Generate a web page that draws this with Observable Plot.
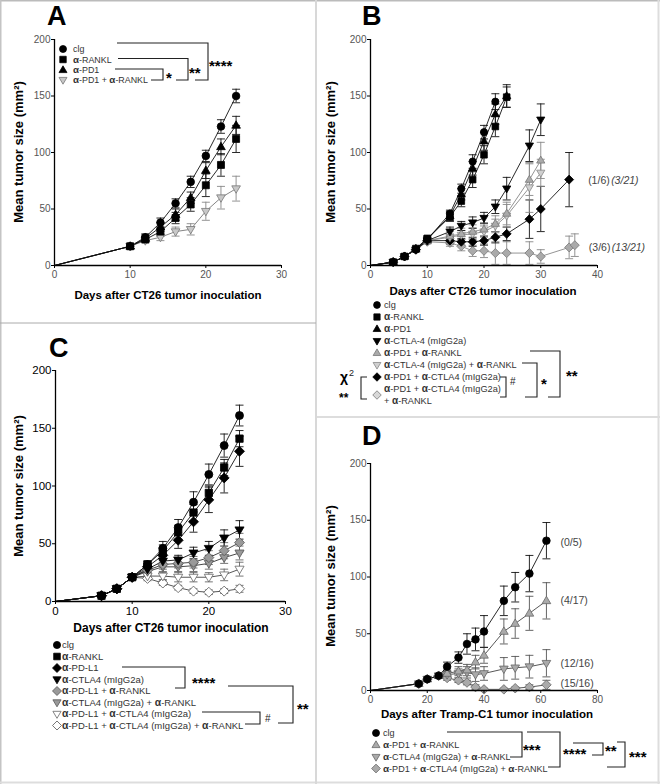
<!DOCTYPE html>
<html><head><meta charset="utf-8">
<script src="https://cdn.jsdelivr.net/npm/d3@7"></script>
<script src="https://cdn.jsdelivr.net/npm/@observablehq/plot@0.6"></script>
<style>
body{margin:0;background:#fff;}
#fig{position:relative;width:660px;height:784px;overflow:hidden;background:#fff;font-family:"Liberation Sans",Arial,sans-serif;}
#fig svg{position:absolute;left:0;top:0;background:transparent;}
</style></head><body><div id="fig"></div>
<script>
// ---------------- DATA ----------------
// Panel A (days after CT26 inoculation)
const A_days = [0,10,12,14,16,18,20,22,24];
const A_clg      = [0,17,25,38,55,74,97,123,150];
const A_clg_sem  = [0,2,3,4,4,5,5,6,6];
const A_rankl    = [0,17,23,30,42,54,71,89,112];
const A_rankl_sem= [0,2,2,4,5,6,10,10,12];
const A_pd1      = [0,17,24,34,45,60,84,105,124];
const A_pd1_sem  = [0,2,3,4,5,5,7,7,8];
const A_pd1r     = [0,17,22,25,30,32,48,60,68];
const A_pd1r_sem = [0,2,2,3,4,5,8,10,11];
const A_labels = ["clg","α-RANKL","α-PD1","α-PD1 + α-RANKL"];

// Panel B
const B_clg_days = [0,4,6,8,10,14,16,18,20,22];
const B_clg      = [0,3,8,14,23,46,68,92,118,145];
const B_clg_sem  = [0,1,1,1,2,3,4,6,6,7];
const B_rankl_days = [0,4,6,8,10,14,16,18,20,22,24];
const B_rankl      = [0,3,8,15,24,43,57,76,98,123,149];
const B_rankl_sem  = [0,1,1,1,2,4,5,7,8,9,9];
const B_pd1_days = [0,4,6,8,10,14,16,18,20,22,24];
const B_pd1      = [0,3,8,15,23,44,63,86,110,134,150];
const B_pd1_sem  = [0,1,1,1,2,4,5,6,8,9,10];
const B_ctla_days = [0,4,6,8,10,14,16,18,20,22,24,28,30];
const B_ctla      = [0,3,8,14,22,30,35,38,42,52,68,106,129];
const B_ctla_sem  = [0,1,1,1,2,4,4,5,5,6,10,14,14];
const B_pd1r_days = [0,4,6,8,10,14,16,18,20,22,24,28,30];
const B_pd1r      = [0,3,8,14,22,26,28,30,32,37,46,76,93];
const B_pd1r_sem  = [0,1,1,1,2,4,5,6,6,7,10,14,16];
const B_ctlar_days = [0,4,6,8,10,14,16,18,20,22,24,28,30];
const B_ctlar      = [0,3,8,14,22,25,27,28,30,35,44,69,82];
const B_ctlar_sem  = [0,1,1,1,2,3,4,5,5,6,10,22,12];
const B_pdctla_days = [0,4,6,8,10,14,16,18,20,22,24,28,30,35];
const B_pdctla      = [0,3,8,14,22,22,21,21,22,25,28,41,50,76];
const B_pdctla_sem  = [0,1,1,1,2,3,3,4,4,5,6,17,20,24];
const B_all_days = [0,4,6,8,10,14,16,18,20,22,24,28,30,35,36];
const B_all      = [0,3,8,14,21,20,17,13,13,11,11,11,8,16,18];
const B_all_sem  = [0,1,1,1,2,3,4,5,6,10,10,10,6,10,10];
const B_labels = ["clg","α-RANKL","α-PD1","α-CTLA-4 (mIgG2a)","α-PD1 + α-RANKL","α-CTLA-4 (mIgG2a) + α-RANKL","α-PD1 + α-CTLA4 (mIgG2a)","α-PD1 + α-CTLA4 (mIgG2a)","+ α-RANKL"];
const B_notes = [["(1/6)","(3/21)"],["(3/6)","(13/21)"]];

// Panel C
const C_days = [0,6,8,10,12,14,16,18,20,22,24];
const C_clg       = [0,5,11,21,32,46,64,86,110,135,161];
const C_clg_sem   = [0,1,1,2,3,6,7,9,9,10,9];
const C_rankl     = [0,5,11,21,32,44,60,77,94,116,141];
const C_rankl_sem = [0,1,1,2,3,5,6,7,6,7,7];
const C_pdl1      = [0,5,11,21,30,40,53,69,88,107,130];
const C_pdl1_sem  = [0,1,1,2,3,4,7,9,11,13,13];
const C_ctla      = [0,5,11,21,28,35,36,42,46,55,62];
const C_ctla_sem  = [0,1,1,2,3,4,4,5,6,7,8];
const C_pdl1r     = [0,5,11,21,27,32,33,34,38,44,51];
const C_pdl1r_sem = [0,1,1,2,3,4,4,5,6,7,8];
const C_ctlar     = [0,5,11,21,26,30,30,31,33,38,42];
const C_ctlar_sem = [0,1,1,2,3,4,4,5,5,5,6];
const C_pdctla    = [0,5,11,21,22,22,21,21,21,23,28];
const C_pdctla_sem= [0,1,1,2,2,3,4,4,4,5,6];
const C_all       = [0,5,11,21,20,16,12,9,8,9,11];
const C_all_sem   = [0,1,1,2,2,2,2,2,2,2,3];
const C_labels = ["clg","α-RANKL","α-PD-L1","α-CTLA4 (mIgG2a)","α-PD-L1 + α-RANKL","α-CTLA4 (mIgG2a) + α-RANKL","α-PD-L1 + α-CTLA4 (mIgG2a)","α-PD-L1 + α-CTLA4 (mIgG2a) + α-RANKL"];

// Panel D (days after Tramp-C1 inoculation)
const D_days = [0,17,20,24,27,31,34,37,40,47,51,56,62];
const D_clg       = [0,6,10,13,21,29,41,45,52,79,91,103,132];
const D_clg_sem   = [0,1,2,2,4,5,9,10,14,13,13,16,16];
const D_pd1r      = [0,6,10,13,15,17,18,25,31,52,59,68,79];
const D_pd1r_sem  = [0,1,2,2,3,4,5,6,7,11,13,15,16];
const D_ctlar     = [0,6,10,13,14,15,16,14,15,19,20,21,24];
const D_ctlar_sem = [0,1,2,2,3,4,5,6,6,10,10,10,12];
const D_all       = [0,6,10,13,11,9,7,3,1,1,2,3,5];
const D_all_sem   = [0,1,2,2,2,2,2,2,1,1,1,2,4];
const D_labels = ["clg","α-PD1 + α-RANKL","α-CTLA4 (mIgG2a) + α-RANKL","α-PD1 + α-CTLA4 (mIgG2a) + α-RANKL"];
const D_notes = ["(0/5)","(4/17)","(12/16)","(15/16)"];

// ---------------- SYMBOLS ----------------
const R = s => Math.sqrt(s / Math.PI);
const circ = {draw(c,s){const r=R(s); c.moveTo(r,0); c.arc(0,0,r,0,2*Math.PI);}};
const sq = {draw(c,s){const r=R(s)*0.92; c.moveTo(-r,-r); c.lineTo(r,-r); c.lineTo(r,r); c.lineTo(-r,r); c.closePath();}};
const triU = {draw(c,s){const r=R(s)*1.2; c.moveTo(0,-r); c.lineTo(r*0.95,r*0.62); c.lineTo(-r*0.95,r*0.62); c.closePath();}};
const triD = {draw(c,s){const r=R(s)*1.2; c.moveTo(0,r); c.lineTo(r*0.95,-r*0.62); c.lineTo(-r*0.95,-r*0.62); c.closePath();}};
const dia = {draw(c,s){const r=R(s)*1.25; c.moveTo(0,-r); c.lineTo(r,0); c.lineTo(0,r); c.lineTo(-r,0); c.closePath();}};
const cap = {draw(c,s){const r=R(s); c.moveTo(-r,0); c.lineTo(r,0);}};

const BLK = {fill:"#000", stroke:"#000", line:"#111", bar:"#111"};
const st = (fill, stroke, line, bar) => ({fill, stroke, line, bar});

const rows = (days, mean, sem) => days.map((x,i) => ({x, y: mean[i], e: sem[i]}));

const fig = document.getElementById("fig");
const FONT = '"Liberation Sans", Arial, sans-serif';

function panel(cfg) {
  const marks = [];
  const S = cfg.series.map(s => ({...s, d: rows(s.days, s.mean, s.sem)}));
  for (const s of S) {
    const eb = s.d.filter(p => p.e > 0 && p.x > 0);
    marks.push(Plot.ruleX(eb, {x:"x", y1:p=>p.y-p.e, y2:p=>p.y+p.e, stroke:s.st.bar, strokeWidth:0.9}));
    marks.push(Plot.dot(eb, {x:"x", y:p=>p.y+p.e, symbol:cap, r:cfg.cap, stroke:s.st.bar, strokeWidth:0.9}));
    marks.push(Plot.dot(eb, {x:"x", y:p=>p.y-p.e, symbol:cap, r:cfg.cap, stroke:s.st.bar, strokeWidth:0.9}));
  }
  for (const s of S) marks.push(Plot.line(s.d, {x:"x", y:"y", stroke:s.st.line, strokeWidth:0.9}));
  for (const s of S) marks.push(Plot.dot(s.d.filter(p => p.x > 0), {x:"x", y:"y", symbol:s.sym, r:cfg.dr, fill:s.st.fill, stroke:s.st.stroke, strokeWidth:0.8}));
  marks.push(Plot.ruleY([0], {stroke:"#000", strokeWidth:1.3}));
  marks.push(Plot.ruleX([0], {stroke:"#000", strokeWidth:1.3}));
  marks.push(Plot.axisX({ticks:cfg.xTicks, tickSize:3, tickPadding:2, fontSize:cfg.tf, fill:cfg.tc, stroke:"#000", label:null}));
  marks.push(Plot.axisY({ticks:[0,50,100,150,200], tickSize:3, tickPadding:1, fontSize:cfg.tf, fill:cfg.tc, stroke:"#000", label:null}));
  if (cfg.extra) marks.push(...cfg.extra);
  const svg = Plot.plot({
    width:660, height:784,
    marginLeft:cfg.l, marginRight:660-cfg.r, marginTop:cfg.t, marginBottom:784-cfg.b,
    x:{domain:cfg.xd}, y:{domain:[0,200]},
    style:{fontFamily:FONT, background:"transparent", overflow:"visible"},
    marks
  });
  fig.appendChild(svg);
}

// Panel A
panel({l:54, r:281, t:39, b:265, xd:[0,30], xTicks:[0,10,20,30], tf:10, tc:"#555", dr:3.8, cap:4,
  series:[
    {days:A_days, mean:A_pd1r, sem:A_pd1r_sem, sym:triD, st:st("#c8c8c8","#777","#777","#888")},
    {days:A_days, mean:A_rankl, sem:A_rankl_sem, sym:sq, st:BLK},
    {days:A_days, mean:A_pd1, sem:A_pd1_sem, sym:triU, st:BLK},
    {days:A_days, mean:A_clg, sem:A_clg_sem, sym:circ, st:BLK}
  ]});

// Panel B
const last = (days, mean) => [{x: days[days.length-1], y: mean[mean.length-1]}];
const noteB1 = last(B_pdctla_days, B_pdctla), noteB2 = last(B_all_days, B_all);
panel({l:370, r:597, t:39, b:265, xd:[0,40], xTicks:[0,10,20,30,40], tf:10, tc:"#555", dr:3.6, cap:4,
  series:[
    {days:B_all_days, mean:B_all, sem:B_all_sem, sym:dia, st:st("#aaa","#777","#888","#888")},
    {days:B_pdctla_days, mean:B_pdctla, sem:B_pdctla_sem, sym:dia, st:BLK},
    {days:B_ctlar_days, mean:B_ctlar, sem:B_ctlar_sem, sym:triD, st:st("#d0d0d0","#888","#888","#888")},
    {days:B_pd1r_days, mean:B_pd1r, sem:B_pd1r_sem, sym:triU, st:st("#aaa","#777","#888","#888")},
    {days:B_ctla_days, mean:B_ctla, sem:B_ctla_sem, sym:triD, st:BLK},
    {days:B_pd1_days, mean:B_pd1, sem:B_pd1_sem, sym:triU, st:BLK},
    {days:B_rankl_days, mean:B_rankl, sem:B_rankl_sem, sym:sq, st:BLK},
    {days:B_clg_days, mean:B_clg, sem:B_clg_sem, sym:circ, st:BLK}
  ],
  extra:[
    Plot.text(noteB1, {x:"x", y:"y", text:()=>B_notes[0][0], dx:19, dy:1, textAnchor:"start", fontSize:10.5, fill:"#444"}),
    Plot.text(noteB1, {x:"x", y:"y", text:()=>B_notes[0][1], dx:42, dy:1, textAnchor:"start", fontSize:10.5, fill:"#444", fontStyle:"italic"}),
    Plot.text(noteB2, {x:"x", y:"y", text:()=>B_notes[1][0], dx:14, dy:2, textAnchor:"start", fontSize:10.5, fill:"#444"}),
    Plot.text(noteB2, {x:"x", y:"y", text:()=>B_notes[1][1], dx:37, dy:2, textAnchor:"start", fontSize:10.5, fill:"#444", fontStyle:"italic"})
  ]});

// Panel C
panel({l:55, r:285, t:370, b:601, xd:[0,30], xTicks:[0,10,20,30], tf:11.5, tc:"#000", dr:4, cap:4,
  series:[
    {days:C_days, mean:C_all, sem:C_all_sem, sym:dia, st:st("#fff","#555","#444","#666")},
    {days:C_days, mean:C_pdctla, sem:C_pdctla_sem, sym:triD, st:st("#fff","#666","#444","#666")},
    {days:C_days, mean:C_ctlar, sem:C_ctlar_sem, sym:triD, st:st("#999","#555","#333","#666")},
    {days:C_days, mean:C_pdl1r, sem:C_pdl1r_sem, sym:dia, st:st("#999","#555","#333","#666")},
    {days:C_days, mean:C_ctla, sem:C_ctla_sem, sym:triD, st:BLK},
    {days:C_days, mean:C_pdl1, sem:C_pdl1_sem, sym:dia, st:BLK},
    {days:C_days, mean:C_rankl, sem:C_rankl_sem, sym:sq, st:BLK},
    {days:C_days, mean:C_clg, sem:C_clg_sem, sym:circ, st:BLK}
  ]});

// Panel D
const Dser = [
  {days:D_days, mean:D_clg, sem:D_clg_sem, sym:circ, st:BLK},
  {days:D_days, mean:D_pd1r, sem:D_pd1r_sem, sym:triU, st:st("#aaa","#666","#444","#555")},
  {days:D_days, mean:D_ctlar, sem:D_ctlar_sem, sym:triD, st:st("#aaa","#666","#444","#555")},
  {days:D_days, mean:D_all, sem:D_all_sem, sym:dia, st:st("#aaa","#666","#444","#555")}
];
panel({l:370, r:597, t:463, b:690, xd:[0,80], xTicks:[0,20,40,60,80], tf:10, tc:"#555", dr:3.8, cap:4,
  series:[...Dser].reverse(),
  extra: Dser.map((s,i) => Plot.text(last(s.days, s.mean), {x:"x", y:"y", text:()=>D_notes[i], dx:14, dy: i===0?2:(i===3?-1:0), textAnchor:"start", fontSize:10.5, fill:"#444"}))
});

// ---------------- OVERLAY: frames, letters, labels, legends ----------------
const ov = d3.select(fig).append("svg").attr("width",660).attr("height",784).style("font-family",FONT);

// frames
const ln = (x1,y1,x2,y2,c,w) => ov.append("line").attr("x1",x1).attr("y1",y1).attr("x2",x2).attr("y2",y2).attr("stroke",c).attr("stroke-width",w);
ln(0,0.75,660,0.75,"#bbb",1.5);
ln(0.75,0,0.75,784,"#c4c4c4",1.5);
ln(658.5,0,658.5,784,"#ddd",2);
ln(0,782.5,660,782.5,"#ddd",2);
ln(316,0,316,784,"#d8d8d8",2);
ln(0,323,316,323,"#aaa",1);
ln(317,417,660,417,"#ddd",2);

function t(x,y,s,o={}) {
  const el = ov.append("text").attr("x",x).attr("y",y).attr("font-size",o.fs||10).attr("fill",o.fill||"#000")
    .attr("text-anchor",o.anchor||"start").attr("font-weight",o.bold?"bold":"normal");
  if (o.italic) el.attr("font-style","italic");
  if (o.rot) el.attr("transform",`rotate(-90 ${x} ${y})`);
  if (o.alpha) {
    s.split(/(α)/).filter(p=>p.length).forEach(p => {
      const ts = el.append("tspan").text(p);
      if (p === "α") ts.attr("font-weight","bold").attr("font-size",(o.fs||10)*1.1);
    });
  } else el.text(s);
  return el;
}

// panel letters
t(47,25,"A",{fs:27,bold:true});
t(362,25,"B",{fs:27,bold:true});
t(49,357,"C",{fs:27,bold:true});
t(362,445,"D",{fs:27,bold:true});

// axis titles
const YL = "Mean tumor size (mm²)";
t(23,152,YL,{fs:13,bold:true,rot:true,anchor:"middle"});
t(335,152,YL,{fs:13,bold:true,rot:true,anchor:"middle"});
t(23,486,YL,{fs:13,bold:true,rot:true,anchor:"middle"});
t(335,576,YL,{fs:13,bold:true,rot:true,anchor:"middle"});
t(168,299,"Days after CT26 tumor inoculation",{fs:11.5,bold:true,anchor:"middle"});
t(483,295,"Days after CT26 tumor inoculation",{fs:11.5,bold:true,anchor:"middle"});
t(171,632,"Days after CT26 tumor inoculation",{fs:12,bold:true,anchor:"middle"});
t(487,718,"Days after Tramp-C1 tumor inoculation",{fs:11.5,bold:true,anchor:"middle"});

function sym(x,y,s,r,fill,stroke) {
  ov.append("path").attr("d", d3.symbol(s, r*r*Math.PI)()).attr("transform",`translate(${x},${y})`)
    .attr("fill",fill).attr("stroke",stroke).attr("stroke-width",0.8);
}
function path(d, w=1.1) { ov.append("path").attr("d",d).attr("fill","none").attr("stroke","#222").attr("stroke-width",w); }
const stars = (x,yc,s,fs=15) => t(x,yc+fs*0.58,s,{fs,bold:true});

// Legend A
const A_sym = [[circ,"#000","#000"],[sq,"#000","#000"],[triU,"#000","#000"],[triD,"#c8c8c8","#777"]];
[49,59.5,70,80].forEach((y,i) => { sym(63,y,A_sym[i][0],3.5,A_sym[i][1],A_sym[i][2]); t(73,y+3.3,A_labels[i],{fs:8.9,fill:"#333",alpha:true}); });
path("M117,43H208V80H195");
path("M118,58.5H188V80H176");
path("M115,69H163V80H151");
stars(209,62,"****"); stars(189,69,"**"); stars(166,74,"*");

// Legend B
const B_sym = [[circ,"#000","#000"],[sq,"#000","#000"],[triU,"#000","#000"],[triD,"#000","#000"],[triU,"#aaa","#777"],[triD,"#d0d0d0","#888"],[dia,"#000","#000"]];
const By = [305,317,329,341,353,365,377,389,401];
B_sym.forEach((s,i) => sym(377,By[i],s[0],3.4,s[1],s[2]));
sym(377,395,dia,3.4,"#d8d8d8","#777");
B_labels.forEach((lab,i) => t(384,By[i]+3.3,lab,{fs:9.2,fill:"#333",alpha:true}));
t(340,382,"χ",{fs:14,bold:true}); t(349,376,"2",{fs:9,fill:"#222"});
t(339,402,"**",{fs:12,bold:true});
path("M367,377H361V399H367");
path("M500,377H506V397H500");
t(510,385,"#",{fs:10,fill:"#222"});
path("M522,363H537V397H525");
stars(541,380,"*");
path("M530,351H560V397H548");
stars(566,372,"**");

// Legend C
const C_sym = [[circ,"#000","#000"],[sq,"#000","#000"],[dia,"#000","#000"],[triD,"#000","#000"],[dia,"#999","#555"],[triD,"#999","#555"],[triD,"#fff","#666"],[dia,"#fff","#555"]];
const Cy = [645,656.5,668,679.5,691,702.5,714,725.5];
C_sym.forEach((s,i) => { sym(57,Cy[i],s[0],3.6,s[1],s[2]); t(62,Cy[i]+3.4,C_labels[i],{fs:9.5,fill:"#333",alpha:true}); });
path("M122,667H185V688H175");
stars(192,679,"****");
path("M228,686H293V723H278");
stars(297,705,"**");
path("M202,712H260V724H245");
t(265,722,"#",{fs:10,fill:"#222"});

// Legend D
const D_sym = [[circ,"#000","#000"],[triU,"#aaa","#666"],[triD,"#aaa","#666"],[dia,"#aaa","#666"]];
const Dy = [733,745,757,768.5];
D_sym.forEach((s,i) => { sym(376,Dy[i],s[0],3.5,s[1],s[2]); t(383,Dy[i]+3.3,D_labels[i],{fs:9.05,fill:"#333",alpha:true}); });
path("M447,732H522V757H510");
stars(523,746,"***");
path("M527,732H560V767H548");
stars(563,750,"****");
path("M573,743H603V755H592");
stars(605,747,"**");
path("M617,742H625V767H607");
stars(629,753,"***");
</script></body></html>
